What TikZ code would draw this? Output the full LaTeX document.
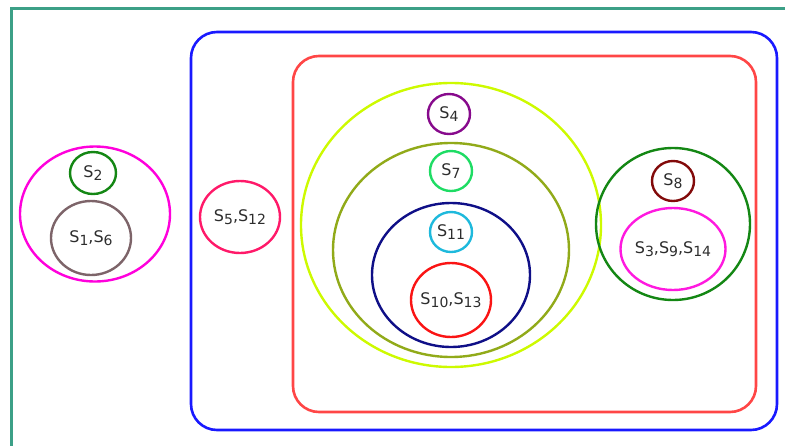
\documentclass[tikz,border=0pt]{standalone}
\usepackage{fontspec}
\setmainfont{DejaVu Sans}
\usetikzlibrary{shapes.geometric}
\definecolor{frameteal}{RGB}{60,160,135}
\definecolor{outerblue}{RGB}{25,25,255}
\definecolor{innerred}{RGB}{255,70,70}
\definecolor{pinkset}{RGB}{255,0,220}
\definecolor{darkgreen}{RGB}{20,135,20}
\definecolor{mauve}{RGB}{125,100,105}
\definecolor{crimson}{RGB}{255,25,105}
\definecolor{lime}{RGB}{205,250,0}
\definecolor{plum}{RGB}{135,10,140}
\definecolor{olive}{RGB}{145,170,25}
\definecolor{mint}{RGB}{30,220,100}
\definecolor{navy}{RGB}{15,15,135}
\definecolor{skyblue}{RGB}{30,185,220}
\definecolor{brightred}{RGB}{250,20,20}
\definecolor{maroon}{RGB}{130,10,10}
\definecolor{labelgray}{RGB}{45,45,45}
% index digits, only a little smaller than the letter
\newcommand{\ix}[1]{\raisebox{-3pt}{\fontsize{14}{14}\selectfont #1}}
\tikzstyle{set} = [ellipse, draw, line width=2.4pt, inner sep=0pt]
\tikzstyle{tag} = [text=labelgray, inner sep=0pt, font=\fontsize{16}{18}\selectfont]
\tikzstyle{box} = [draw, line width=2.6pt, rounded corners=26pt]

\begin{document}
\begin{tikzpicture}[x=1pt, y=-1pt]
        \useasboundingbox (0,0) rectangle (785,445);
        \draw [frameteal, line width=3pt] (11,8) rectangle (800,460);

        % outer containers
        \node [box, draw=outerblue, minimum width=586pt, minimum height=398pt] (blue) at (484,231) {};
        \node [box, draw=innerred, minimum width=463pt, minimum height=356pt] (red) at (524.5,234) {};

        % left group
        \node [set, draw=pinkset, minimum width=150pt, minimum height=135pt] (left) at (95,214) {};
        \node [set, draw=darkgreen, minimum width=46pt, minimum height=42pt,
               label={[tag]center:S\ix{2}}] (s2) at (93,173) {};
        \node [set, draw=mauve, minimum width=80pt, minimum height=74pt,
               label={[tag]center:S\ix{1},S\ix{6}}] (s16) at (91,238) {};

        \node [set, draw=crimson, minimum width=80pt, minimum height=72pt,
               label={[tag]center:S\ix{5},S\ix{12}}] (s512) at (240,217) {};

        % nested middle group
        \node [set, draw=lime, minimum width=300pt, minimum height=284pt] (mid) at (451,225) {};
        \node [set, draw=plum, minimum width=42pt, minimum height=40pt,
               label={[tag]center:S\ix{4}}] (s4) at (449,114) {};
        \node [set, draw=olive, minimum width=236pt, minimum height=214pt] (inner) at (451,250) {};
        \node [set, draw=mint, minimum width=42pt, minimum height=40pt,
               label={[tag]center:S\ix{7}}] (s7) at (451,171) {};
        \node [set, draw=navy, minimum width=158pt, minimum height=144pt] (core) at (451,275) {};
        \node [set, draw=skyblue, minimum width=42pt, minimum height=40pt,
               label={[tag]center:S\ix{11}}] (s11) at (451,232) {};
        \node [set, draw=brightred, minimum width=80pt, minimum height=74pt,
               label={[tag]center:S\ix{10},S\ix{13}}] (s1013) at (451,300) {};

        % right group
        \node [set, draw=darkgreen, minimum width=154pt, minimum height=152pt] (right) at (673,224) {};
        \node [set, draw=maroon, minimum width=42pt, minimum height=40pt,
               label={[tag]center:S\ix{8}}] (s8) at (673,181) {};
        \node [set, draw=pinkset!90!white, minimum width=105pt, minimum height=82pt,
               label={[tag]center:S\ix{3},S\ix{9},S\ix{14}}] (s3914) at (673,249) {};
    \end{tikzpicture}
\end{document}
